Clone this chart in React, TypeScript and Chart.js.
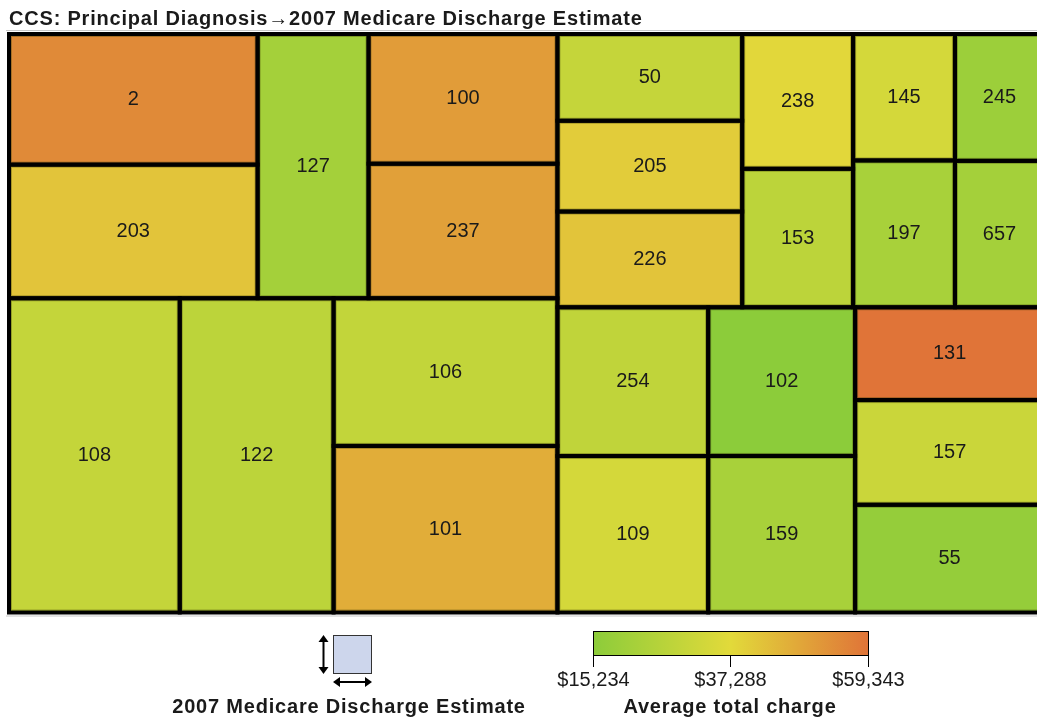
import React, { useEffect, useRef } from 'react';
import { Chart, registerables } from 'chart.js';

Chart.register(...registerables);

// ---- Data ----
const ccsCodes = ['2', '203', '127', '100', '237', '108', '122', '106', '101', '50', '205', '226', '238', '153', '145', '197', '245', '657', '254', '109', '102', '159', '131', '157', '55'];
const dischargeEstimate = [391000, 400000, 353000, 295000, 306000, 646000, 582000, 398000, 449000, 193000, 202000, 213000, 180000, 185000, 155000, 180000, 136000, 157000, 270000, 284000, 263000, 277000, 211000, 238000, 245000];
const avgTotalCharge = [54500, 42000, 21400, 50700, 49900, 29600, 27600, 29000, 47000, 29800, 40300, 42000, 38000, 27500, 33700, 22500, 19300, 21400, 28500, 33700, 15234, 22500, 59343, 31100, 17500];
// nesting of cells (indices into the arrays above); levels alternate horizontal / vertical split
const groupTree = [
  [[[0, 1], [2], [3, 4]], [[5], [6], [7, 8]]],
  [[[9, 10, 11], [12, 13], [14, 15], [16, 17]], [[18, 19], [20, 21], [22, 23, 24]]],
];
const chargeTicks = [15234, 37288, 59343];
const chargeTickLabels = ['$15,234', '$37,288', '$59,343'];
const rampColors = [[140, 204, 58], [226, 218, 58], [224, 116, 56]];
const chartTitle = 'CCS: Principal Diagnosis\u21922007 Medicare Discharge Estimate';
const sizeLegendTitle = '2007 Medicare Discharge Estimate';
const colorLegendTitle = 'Average total charge';

type TreeNode = number | TreeNode[];
type Rect = { x0: number; y0: number; x1: number; y1: number };

function sumNode(n: TreeNode): number {
  return typeof n === 'number' ? dischargeEstimate[n] : n.reduce((s: number, c) => s + sumNode(c), 0);
}

function layoutNode(n: TreeNode, r: Rect, depth: number, out: Rect[]) {
  if (typeof n === 'number') {
    out[n] = r;
    return;
  }
  const total = sumNode(n);
  let acc = 0;
  for (const c of n) {
    const f0 = acc / total;
    acc += sumNode(c);
    const f1 = acc / total;
    if (depth % 2 === 0) {
      layoutNode(c, { x0: r.x0 + (r.x1 - r.x0) * f0, x1: r.x0 + (r.x1 - r.x0) * f1, y0: r.y0, y1: r.y1 }, depth + 1, out);
    } else {
      layoutNode(c, { x0: r.x0, x1: r.x1, y0: r.y0 + (r.y1 - r.y0) * f0, y1: r.y0 + (r.y1 - r.y0) * f1 }, depth + 1, out);
    }
  }
}

function chargeColor(v: number): string {
  const [lo, mid, hi] = chargeTicks;
  let a: number[], b: number[], t: number;
  if (v <= mid) {
    a = rampColors[0]; b = rampColors[1]; t = (v - lo) / (mid - lo);
  } else {
    a = rampColors[1]; b = rampColors[2]; t = (v - mid) / (hi - mid);
  }
  t = Math.max(0, Math.min(1, t));
  const c = a.map((x, i) => Math.round(x + (b[i] - x) * t));
  return `rgb(${c[0]},${c[1]},${c[2]})`;
}

const rgbStr = (c: number[]) => `rgb(${c[0]},${c[1]},${c[2]})`;

const FONT = '"Liberation Sans", Arial, sans-serif';
const TEXT = '#1a1a1a';

const treemapPlugin = {
  id: 'treemapCells',
  beforeDatasetsDraw(chart: any) {
    const { ctx, scales } = chart;
    const xs = scales.x;
    const ys = scales.y;
    const rects: Rect[] = [];
    layoutNode(groupTree as TreeNode, { x0: 0, y0: 0, x1: 1, y1: 1 }, 0, rects);
    const px = rects.map((r) => {
      const x0 = xs.getPixelForValue(r.x0);
      const x1 = xs.getPixelForValue(r.x1);
      const y0 = ys.getPixelForValue(r.y0);
      const y1 = ys.getPixelForValue(r.y1);
      return { x0, x1, y0: Math.min(y0, y1), y1: Math.max(y0, y1) };
    });
    const area = chart.chartArea;
    ctx.save();
    // light frame lines
    ctx.strokeStyle = '#c8c8c8';
    ctx.lineWidth = 1;
    ctx.beginPath();
    ctx.moveTo(area.left - 3, area.top - 3.5);
    ctx.lineTo(chart.width, area.top - 3.5);
    ctx.moveTo(area.left - 3, area.bottom + 3.5);
    ctx.lineTo(chart.width, area.bottom + 3.5);
    ctx.stroke();
    // fills
    px.forEach((p, i) => {
      ctx.fillStyle = chargeColor(avgTotalCharge[i]);
      ctx.fillRect(p.x0, p.y0, p.x1 - p.x0, p.y1 - p.y0);
    });
    // inner darker outline
    ctx.strokeStyle = 'rgba(60,60,0,0.35)';
    ctx.lineWidth = 1;
    px.forEach((p) => {
      ctx.strokeRect(p.x0 + 2.5, p.y0 + 2.5, p.x1 - p.x0 - 5, p.y1 - p.y0 - 5);
    });
    // black borders
    ctx.strokeStyle = '#000';
    ctx.lineWidth = 4;
    px.forEach((p) => {
      ctx.strokeRect(p.x0, p.y0, p.x1 - p.x0, p.y1 - p.y0);
    });
    // labels
    ctx.fillStyle = TEXT;
    ctx.font = `20px ${FONT}`;
    ctx.textAlign = 'center';
    ctx.textBaseline = 'middle';
    px.forEach((p, i) => {
      ctx.fillText(ccsCodes[i], (p.x0 + p.x1) / 2, (p.y0 + p.y1) / 2);
    });
    ctx.restore();
  },
  afterDraw(chart: any) {
    const { ctx } = chart;
    ctx.save();
    // title
    ctx.fillStyle = TEXT;
    ctx.font = `bold 20px ${FONT}`;
    (ctx as any).letterSpacing = '0.8px';
    ctx.textAlign = 'left';
    ctx.textBaseline = 'alphabetic';
    ctx.fillText(chartTitle, 9, 25);

    // size legend
    const sqX = 333, sqY = 635, sqS = 38;
    ctx.fillStyle = '#cdd6ec';
    ctx.fillRect(sqX, sqY, sqS, sqS + 1);
    ctx.strokeStyle = '#333';
    ctx.lineWidth = 1;
    ctx.strokeRect(sqX + 0.5, sqY + 0.5, sqS, sqS);
    ctx.strokeStyle = '#000';
    ctx.fillStyle = '#000';
    ctx.lineWidth = 2;
    // vertical arrow
    const ax = 323.5;
    ctx.beginPath();
    ctx.moveTo(ax, sqY + 4);
    ctx.lineTo(ax, sqY + sqS - 4);
    ctx.stroke();
    ctx.beginPath();
    ctx.moveTo(ax, sqY); ctx.lineTo(ax - 5, sqY + 7); ctx.lineTo(ax + 5, sqY + 7); ctx.closePath(); ctx.fill();
    ctx.beginPath();
    ctx.moveTo(ax, sqY + sqS + 1); ctx.lineTo(ax - 5, sqY + sqS - 6); ctx.lineTo(ax + 5, sqY + sqS - 6); ctx.closePath(); ctx.fill();
    // horizontal arrow
    const ay = 682;
    ctx.beginPath();
    ctx.moveTo(sqX + 4, ay);
    ctx.lineTo(sqX + sqS - 3, ay);
    ctx.stroke();
    ctx.beginPath();
    ctx.moveTo(sqX, ay); ctx.lineTo(sqX + 7, ay - 5); ctx.lineTo(sqX + 7, ay + 5); ctx.closePath(); ctx.fill();
    ctx.beginPath();
    ctx.moveTo(sqX + sqS + 1, ay); ctx.lineTo(sqX + sqS - 6, ay - 5); ctx.lineTo(sqX + sqS - 6, ay + 5); ctx.closePath(); ctx.fill();

    // colour legend
    const bx0 = 593, bx1 = 868, by0 = 631, by1 = 655;
    const grad = ctx.createLinearGradient(bx0, 0, bx1, 0);
    const span = chargeTicks[2] - chargeTicks[0];
    chargeTicks.forEach((t, i) => grad.addColorStop((t - chargeTicks[0]) / span, rgbStr(rampColors[i])));
    ctx.fillStyle = grad;
    ctx.fillRect(bx0, by0, bx1 - bx0, by1 - by0);
    ctx.strokeStyle = '#000';
    ctx.lineWidth = 1;
    ctx.strokeRect(bx0 + 0.5, by0 + 0.5, bx1 - bx0, by1 - by0);
    ctx.fillStyle = TEXT;
    ctx.font = `20px ${FONT}`;
    (ctx as any).letterSpacing = '0px';
    ctx.textAlign = 'center';
    ctx.textBaseline = 'middle';
    chargeTicks.forEach((t, i) => {
      const x = Math.round(bx0 + ((t - chargeTicks[0]) / span) * (bx1 - bx0)) + 0.5;
      ctx.beginPath();
      ctx.moveTo(x, by1);
      ctx.lineTo(x, by1 + 12);
      ctx.stroke();
      ctx.fillText(chargeTickLabels[i], x, 680);
    });

    // legend titles
    ctx.font = `bold 20px ${FONT}`;
    (ctx as any).letterSpacing = '0.8px';
    ctx.textBaseline = 'alphabetic';
    ctx.fillText(sizeLegendTitle, 349, 713);
    ctx.fillText(colorLegendTitle, 730, 713);
    ctx.restore();
  },
};

export default function App() {
  const ref = useRef<HTMLCanvasElement | null>(null);
  useEffect(() => {
    if (!ref.current) return;
    const centers: { x: number; y: number }[] = [];
    const rects: Rect[] = [];
    layoutNode(groupTree as TreeNode, { x0: 0, y0: 0, x1: 1, y1: 1 }, 0, rects);
    rects.forEach((r) => centers.push({ x: (r.x0 + r.x1) / 2, y: (r.y0 + r.y1) / 2 }));
    const chart = new Chart(ref.current, {
      type: 'scatter',
      data: {
        datasets: [
          {
            label: 'cells',
            data: centers,
            pointRadius: 0,
            pointHoverRadius: 0,
          },
        ],
      },
      options: {
        responsive: false,
        animation: false,
        layout: { padding: { left: 9, top: 34, right: 6, bottom: 111.5 } },
        scales: {
          x: { type: 'linear', min: 0, max: 1, display: false },
          y: { type: 'linear', min: 0, max: 1, reverse: true, display: false },
        },
        plugins: {
          legend: { display: false },
          tooltip: { enabled: false },
          title: { display: false },
        },
      },
      plugins: [treemapPlugin],
    });
    return () => chart.destroy();
  }, []);
  return (
    <div style={{ position: 'fixed', left: 0, top: 0, width: 1037, height: 724, overflow: 'hidden', background: '#fff' }}>
      <canvas ref={ref} width={1050} height={724} style={{ display: 'block' }} />
    </div>
  );
}
